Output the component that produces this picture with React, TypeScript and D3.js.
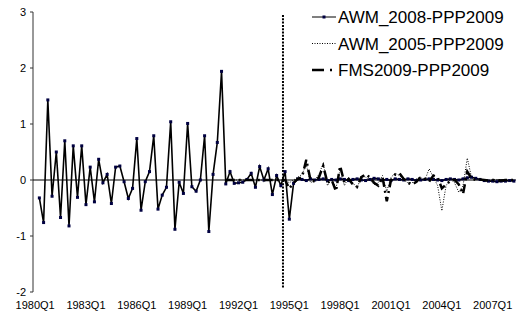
import React from 'react';
import * as d3 from 'd3';

const width = 518;
const height = 318;

// quarters 1980Q1 .. 2008Q2
const firstYear = 1980;
const nQuarters = 114;
const quarters: string[] = [];
for (let i = 0; i < nQuarters; i++) {
  quarters.push((firstYear + Math.floor(i / 4)) + 'Q' + ((i % 4) + 1));
}
const tickLabels = ['1980Q1', '1983Q1', '1986Q1', '1989Q1', '1992Q1', '1995Q1', '1998Q1', '2001Q1', '2004Q1', '2007Q1'];
const yTicks = [-2, -1, 0, 1, 2, 3];

const seriesNames = ['AWM_2008-PPP2009', 'AWM_2005-PPP2009', 'FMS2009-PPP2009'];

// starts 1980Q2
const awm2008Start = '1980Q2';
const awm2008 = [
  -0.32, -0.76, 1.43, -0.29, 0.50, -0.67, 0.70, -0.82, 0.61, -0.31,
  0.61, -0.44, 0.23, -0.39, 0.37, -0.05, 0.10, -0.42, 0.23, 0.25,
  -0.03, -0.33, -0.15, 0.74, -0.54, -0.03, 0.15, 0.79, -0.52, -0.27,
  -0.13, 1.04, -0.88, -0.04, -0.24, 1.01, -0.12, -0.20, 0.00, 0.79,
  -0.92, 0.10, 0.67, 1.94, -0.07, 0.15, -0.06, -0.05, -0.04, 0.01,
  0.12, -0.13, 0.24, 0.00, 0.20, -0.26, 0.08, -0.10, 0.15, -0.70,
  -0.06, 0.02, 0.01, -0.01, 0.02, 0.00, 0.01, 0.02, -0.01, 0.01,
  0.00, 0.02, 0.01, -0.01, 0.01, 0.02, 0.00, -0.01, 0.01, 0.03,
  0.02, 0.00, 0.01, -0.01, 0.02, 0.01, 0.00, 0.02, 0.01, -0.01,
  0.00, 0.01, 0.02, 0.01, 0.00, -0.01, 0.01, 0.02, 0.01, 0.00,
  0.02, 0.04, 0.05, 0.03, 0.01, -0.01, -0.02, -0.02, -0.03, -0.02,
  -0.02, -0.01, -0.02
];

// both start 1991Q2
const otherStart = '1991Q2';
const awm2005 = [
  0, 0, 0, 0, 0, 0, 0, 0, 0, 0, 0, 0, 0, 0, 0,
  -0.05, 0.00, 0.05, 0.10, 0.28, -0.05, 0.00, 0.10, 0.30, -0.10,
  0.02, -0.15, 0.20, -0.10, 0.05, -0.05, -0.15, 0.08, 0.05, 0.00,
  -0.08, -0.05, 0.08, -0.20, 0.05, 0.12, 0.08, 0.00, -0.05, -0.05,
  0.02, 0.05, 0.00, 0.20, 0.05, -0.10, -0.55, -0.10, 0.02, -0.05,
  -0.22, -0.10, 0.39, 0.05, 0.00, 0.01, 0.00, -0.01, 0.00, 0.01,
  0.00, 0.00, -0.01, 0.00
];
const fms2009 = [
  0, 0, 0, 0, 0, 0, 0, 0, 0, 0, 0, 0, 0, 0, 0,
  -0.15, -0.05, 0.02, 0.05, 0.36, 0.00, -0.03, 0.05, 0.25, -0.05,
  0.00, -0.20, 0.25, -0.05, 0.02, -0.08, -0.12, 0.05, 0.10, 0.05,
  -0.05, -0.10, 0.05, -0.38, 0.00, 0.10, 0.12, 0.02, -0.05, -0.08,
  -0.03, 0.05, 0.02, -0.03, 0.08, 0.05, -0.15, -0.08, -0.02, 0.00,
  -0.08, -0.25, 0.15, 0.03, 0.00, 0.01, 0.00, -0.01, 0.00, 0.00,
  -0.01, 0.00, 0.00, 0.00
];

const breakQuarter = '1994Q4';

const left = 33;
const right = 516;
const top = 12;
const bottom = 292;

const x = d3.scaleBand<string>().domain(quarters).range([left, right]).padding(0);
const y = d3.scaleLinear().domain([-2, 3]).range([bottom, top]);
const cx = (q: string) => (x(q) as number) + x.bandwidth() / 2;

function toPoints(start: string, vals: number[]) {
  const s = quarters.indexOf(start);
  return vals.map((v, i) => ({ q: quarters[s + i], v }));
}

const line = d3.line<{ q: string; v: number }>().x(d => cx(d.q)).y(d => y(d.v));

const font = 'Arial, "Liberation Sans", sans-serif';

export default function App() {
  const p2008 = toPoints(awm2008Start, awm2008);
  const p2005 = toPoints(otherStart, awm2005);
  const pFms = toPoints(otherStart, fms2009);
  const breakX = x(breakQuarter) as number;

  return (
    <svg width={width} height={height} style={{ position: 'absolute', left: 0, top: 0, background: '#fff' }}>
      {/* y axis */}
      <line x1={left} x2={left} y1={top} y2={bottom} stroke="#333" />
      {yTicks.map(t => (
        <g key={t}>
          <line x1={left - 3} x2={left} y1={y(t)} y2={y(t)} stroke="#333" />
          <text x={left - 7} y={y(t) + 4} textAnchor="end" fontSize={11} fontFamily={font}>{t}</text>
        </g>
      ))}
      {/* category axis at zero */}
      <line x1={left} x2={right} y1={y(0)} y2={y(0)} stroke="#000" />
      {tickLabels.map(l => (
        <text key={l} x={cx(l)} y={309} textAnchor="middle" fontSize={11} fontFamily={font}>{l}</text>
      ))}
      {/* break line */}
      <line x1={breakX} x2={breakX} y1={15} y2={288} stroke="#000" strokeWidth={2} strokeDasharray="2,1.3" />
      {/* series */}
      <path d={line(p2008) || ''} fill="none" stroke="#000" strokeWidth={1.6} />
      {p2008.map(d => (
        <rect key={d.q} x={cx(d.q) - 1.5} y={y(d.v) - 1.5} width={3} height={3} fill="#000040" />
      ))}
      <path d={line(p2005) || ''} fill="none" stroke="#000" strokeWidth={1} strokeDasharray="1,1.5" />
      <path d={line(pFms) || ''} fill="none" stroke="#000" strokeWidth={2.5} strokeDasharray="9,4,2,4" />
      {/* legend */}
      <g fontFamily={font} fontSize={17}>
        <line x1={312} x2={336} y1={17} y2={17} stroke="#000" />
        <rect x={322.5} y={15.5} width={3} height={3} fill="#000040" />
        <text x={338} y={23}>{seriesNames[0]}</text>
        <line x1={312} x2={336} y1={43.5} y2={43.5} stroke="#000" strokeDasharray="1,1.5" />
        <text x={338} y={49.5}>{seriesNames[1]}</text>
        <line x1={312} x2={336} y1={70} y2={70} stroke="#000" strokeWidth={2.5} strokeDasharray="12,6,2,6" />
        <text x={338} y={76}>{seriesNames[2]}</text>
      </g>
    </svg>
  );
}
